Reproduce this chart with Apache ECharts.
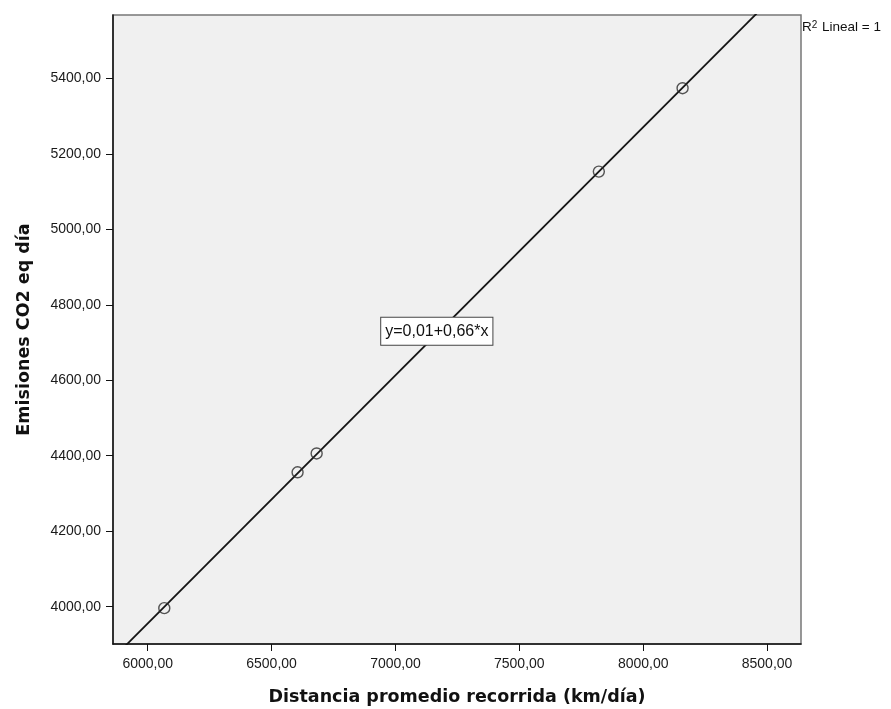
<!DOCTYPE html>
<html>
<head>
<meta charset="utf-8">
<title>Emisiones CO2 vs distancia</title>
<script src="https://cdn.jsdelivr.net/npm/echarts@6/dist/echarts.min.js"></script>
<style>
  html, body { margin: 0; padding: 0; background: #fff; }
  #chart { width: 891px; height: 709px; }
</style>
</head>
<body>
<div id="chart"></div>
<script>
// datos
const distancia = [6067, 6605, 6682, 7821, 8159]; // km/dia
const emisiones = [3996, 4356, 4406, 5153, 5374]; // CO2 eq dia
const xTicks = [6000, 6500, 7000, 7500, 8000, 8500];
const yTicks = [4000, 4200, 4400, 4600, 4800, 5000, 5200, 5400];
const xRange = [5860, 8637];
const yRange = [3901, 5568];
const ecuacion = "y=0,01+0,66*x";
const ecuacionPos = [7167, 4730];

// recta de minimos cuadrados
const n = distancia.length;
const mx = distancia.reduce((a, b) => a + b, 0) / n;
const my = emisiones.reduce((a, b) => a + b, 0) / n;
let sxy = 0, sxx = 0;
distancia.forEach((x, i) => {
  sxy += (x - mx) * (emisiones[i] - my);
  sxx += (x - mx) * (x - mx);
});
const pendiente = sxy / sxx;
const intercepto = my - pendiente * mx;
const recta = xRange.map((x) => [x, intercepto + pendiente * x]);

const puntos = distancia.map((x, i) => [x, emisiones[i]]);
const fmt = (v) => v.toFixed(2).replace(".", ",");

const chart = echarts.init(document.getElementById("chart"));
const labelFont = { fontFamily: "Liberation Sans, Arial, sans-serif", fontSize: 14, color: "#1a1a1a" };
const nameFont = { fontFamily: "DejaVu Sans", fontWeight: "bold", fontSize: 17.5, color: "#111" };

chart.setOption({
  animation: false,
  grid: {
    left: 113, top: 15, right: 90, bottom: 65,
    outerBoundsMode: "none",
    containLabel: false,
    show: true,
    backgroundColor: "#f0f0f0",
    borderColor: "#777",
    borderWidth: 1.5,
  },
  xAxis: {
    type: "value",
    min: xRange[0],
    max: xRange[1],
    name: "Distancia promedio recorrida (km/día)",
    nameLocation: "middle",
    nameGap: 44,
    nameTextStyle: nameFont,
    axisLine: { lineStyle: { color: "#111", width: 1.5 } },
    axisTick: { show: true, length: 7, lineStyle: { color: "#111" }, customValues: xTicks },
    axisLabel: Object.assign({ margin: 13, formatter: fmt, customValues: xTicks }, labelFont),
    splitLine: { show: false },
  },
  yAxis: {
    type: "value",
    min: yRange[0],
    max: yRange[1],
    name: "Emisiones CO2 eq día",
    nameLocation: "middle",
    nameGap: 80,
    nameTextStyle: nameFont,
    axisLine: { show: true, lineStyle: { color: "#111", width: 1.5 } },
    axisTick: { show: true, length: 7, lineStyle: { color: "#111" }, customValues: yTicks },
    axisLabel: Object.assign({ margin: 12, formatter: fmt, customValues: yTicks }, labelFont),
    splitLine: { show: false },
  },
  series: [
    {
      type: "line",
      data: recta,
      symbol: "none",
      clip: true,
      lineStyle: { color: "#151515", width: 1.8 },
      markPoint: {
        symbol: "rect",
        symbolSize: 0,
        data: [{ coord: ecuacionPos, value: ecuacion }],
        label: {
          show: true,
          position: "inside",
          formatter: ecuacion,
          fontFamily: "Liberation Sans, Arial, sans-serif",
          fontSize: 16,
          color: "#111",
          backgroundColor: "#fff",
          borderColor: "#444",
          borderWidth: 1,
          padding: [6, 4, 5, 4],
        },
      },
    },
    {
      type: "scatter",
      data: puntos,
      symbol: "circle",
      symbolSize: 11,
      itemStyle: { color: "transparent", borderColor: "#2a2a2a", borderWidth: 1.4 },
      z: 3,
    },
  ],
  graphic: [
    {
      type: "text",
      left: 802,
      top: 20,
      style: {
        text: "R{sup|2} Lineal = 1",
        fontFamily: "Liberation Sans, Arial, sans-serif",
        fontSize: 13.5,
        fill: "#111",
        rich: {
          sup: { fontSize: 10, verticalAlign: "top", padding: [0, 1, 5, 0] },
        },
      },
    },
  ],
});
</script>
</body>
</html>
